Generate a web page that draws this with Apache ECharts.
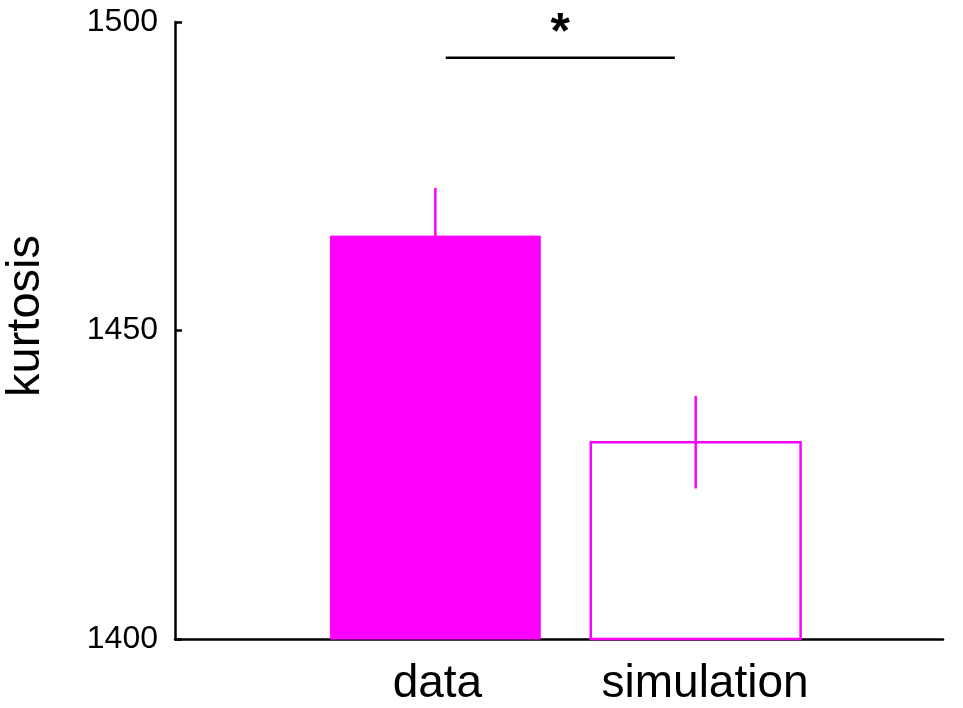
<!DOCTYPE html>
<html><head><meta charset="utf-8">
<script src="https://cdn.jsdelivr.net/npm/echarts@6/dist/echarts.min.js"></script>
<style>html,body{margin:0;padding:0;background:#fff}#c{width:963px;height:708px}</style>
</head><body><div id="c"></div>
<script>
const categories = ['data', 'simulation'];
const positions = [1, 2];
const labelPositions = [1.008, 2.036];
const means = [1465.3, 1431.9];
const errors = [7.8, 7.5];
const filled = [true, false];
const yTicks = [1400, 1450, 1500];
const sigPair = [1.04, 1.92];
const sigLevel = 1494.2;
const sigLabel = '*';
const yName = 'kurtosis';

const chart = echarts.init(document.getElementById('c'));
const color = '#ff00ff';
const barData = categories.map((c, i) => [positions[i], means[i], errors[i], filled[i] ? 1 : 0]);

chart.setOption({
  animation: false,
  grid: { left: 175, right: 20, top: 22, bottom: 69, containLabel: false },
  graphic: [{
    type: 'text', x: 26, y: 316, rotation: Math.PI / 2,
    style: { text: yName, align: 'center', verticalAlign: 'middle', fill: '#000', font: '47px "Liberation Sans"' }
  }],
  xAxis: {
    type: 'value', min: 0, max: 2.95,
    axisLine: { show: true, onZero: false, lineStyle: { color: '#000', width: 2.5 } },
    axisTick: { show: false }, splitLine: { show: false },
    axisLabel: {
      customValues: labelPositions,
      formatter: v => { const i = labelPositions.indexOf(v); return i >= 0 ? categories[i] : ''; },
      color: '#000', fontFamily: 'Liberation Sans', fontSize: 46, margin: 22
    }
  },
  yAxis: {
    type: 'value', min: yTicks[0], max: yTicks[yTicks.length - 1], interval: 50,
    axisLine: { show: true, lineStyle: { color: '#000', width: 2.5 } },
    axisTick: { show: true, inside: true, length: 7, lineStyle: { color: '#000', width: 2.5 } },
    splitLine: { show: false },
    axisLabel: { formatter: v => String(v), color: '#000', fontFamily: 'Liberation Sans', fontSize: 32, margin: 17 }
  },
  series: [{
    type: 'custom',
    data: barData,
    renderItem: (params, api) => {
      const x = api.value(0), m = api.value(1), e = api.value(2), f = api.value(3);
      const halfW = 0.403;
      const p0 = api.coord([x - halfW, m]);
      const p1 = api.coord([x + halfW, 1400]);
      const et = api.coord([x, m + e]);
      const eb = api.coord([x, m - e]);
      return {
        type: 'group',
        children: [
          { type: 'line', shape: { x1: et[0], y1: et[1], x2: eb[0], y2: eb[1] }, style: { stroke: color, lineWidth: 2.5 } },
          {
            type: 'rect',
            shape: { x: p0[0], y: p0[1], width: p1[0] - p0[0], height: p1[1] - p0[1] },
            style: f ? { fill: color, stroke: color, lineWidth: 1 } : { fill: 'none', stroke: color, lineWidth: 2.5 }
          }
        ]
      };
    }
  }, {
    type: 'custom',
    data: [[sigPair[0], sigPair[1], sigLevel]],
    renderItem: (params, api) => {
      const a = api.coord([api.value(0), api.value(2)]);
      const b = api.coord([api.value(1), api.value(2)]);
      return {
        type: 'group',
        children: [
          { type: 'line', shape: { x1: a[0], y1: a[1], x2: b[0], y2: b[1] }, style: { stroke: '#000', lineWidth: 2.5 } },
          { type: 'text', style: { text: sigLabel, x: (a[0] + b[0]) / 2, y: a[1] - 24, align: 'center', verticalAlign: 'middle', fill: '#000', font: 'bold 50px "Liberation Sans"' } }
        ]
      };
    }
  }]
});
</script></body></html>
